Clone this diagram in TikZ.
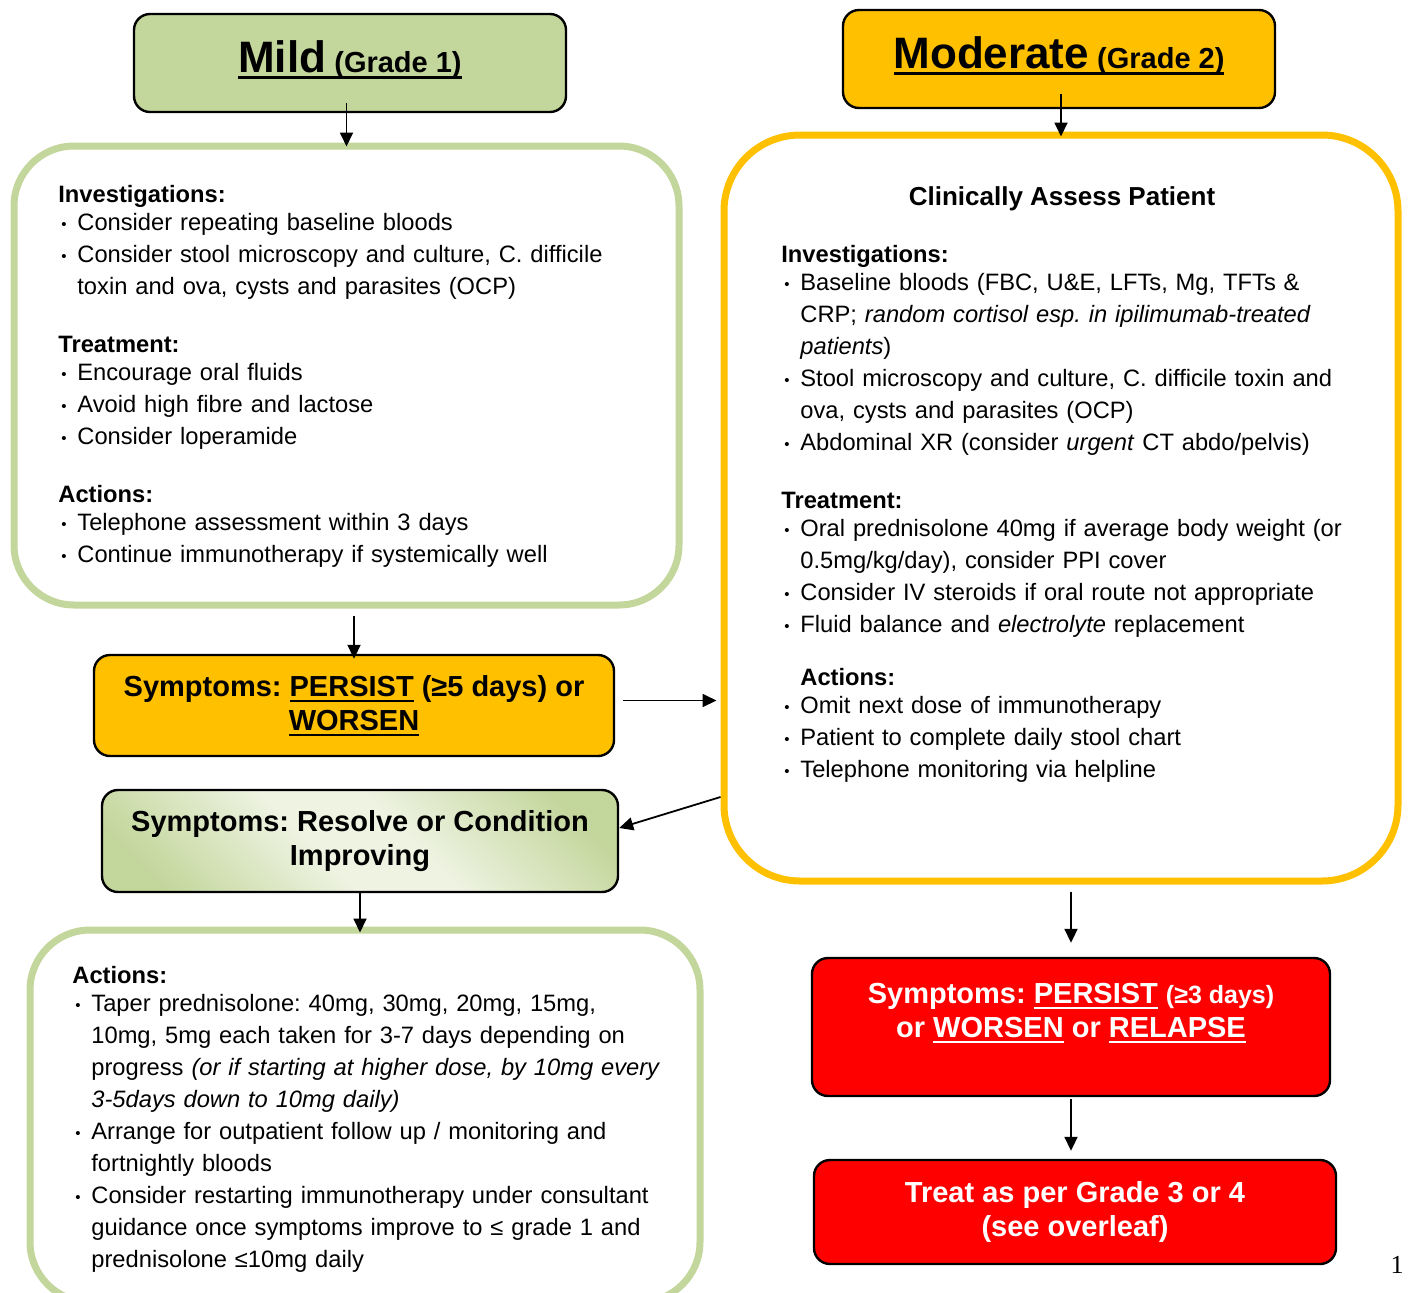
\documentclass[tikz,border=0pt]{standalone}
\usepackage{fontspec}
\setmainfont{Liberation Sans}
\newfontfamily\pagefont{Liberation Serif}
\usetikzlibrary{positioning,calc,arrows.meta}
\frenchspacing

\definecolor{mildgreen}{HTML}{C3D69B}
\definecolor{palegreen}{HTML}{EEF3E2}
\definecolor{modamber}{HTML}{FFC000}
\definecolor{alertred}{HTML}{FF0000}

\pgfdeclarehorizontalshading{resolvefade}{100bp}{color(0bp)=(mildgreen); color(22bp)=(mildgreen); color(44bp)=(palegreen); color(56bp)=(palegreen); color(78bp)=(mildgreen); color(100bp)=(mildgreen)}

\newsavebox{\ulbox}
\newcommand{\undl}[2][1pt]{\sbox{\ulbox}{#2}\makebox[0pt][l]{\rule[\dimexpr-2pt-#1\relax]{\wd\ulbox}{#1}}\usebox{\ulbox}}
\newcommand{\bulitem}{\par\hangindent=9.5pt\hangafter=1\noindent\makebox[9.5pt][l]{\hspace{1.5pt}\raisebox{0.6pt}{\fontsize{7.5}{7.5}\selectfont\textbullet}}}
\newcommand{\secthead}[1]{\par\noindent\textbf{#1}\par\vspace{-2pt}}
\newcommand{\secgap}[1][13pt]{\par\vspace{#1}}

\tikzset{
  boxbase/.style={draw=black, line width=1.2pt, rounded corners=8pt, inner sep=0pt,
    font=\bfseries\fontsize{14.5}{17}\selectfont},
  gradebox/.style={boxbase, minimum width=216pt, minimum height=49pt, text height=16pt, text depth=7pt},
  stepbox/.style={boxbase, align=center},
  alertbox/.style={stepbox, fill=alertred, text=white},
  mildpanel/.style={draw=mildgreen, line width=3.5pt, rounded corners=30pt, fill=white, inner sep=0pt},
  modpanel/.style={draw=modamber, line width=3.5pt, rounded corners=38pt, fill=white, inner sep=0pt},
  bodytext/.style={anchor=north west, align=left, text width=330pt, inner sep=0pt,
    font=\fontsize{11.85}{16}\selectfont},
  flow/.style={-{Triangle[length=7pt,width=6.5pt]}, line width=0.9pt},
}

\begin{document}
\begin{tikzpicture}[x=0.5pt, y=-0.5pt]
  \useasboundingbox (0,0) rectangle (1408,1292);
  \clip (0,0) rectangle (1408,1292);

  % grade headers
  \node[gradebox, fill=mildgreen] (mild) at (350,63)
    {\undl[1.5pt]{{\fontsize{22}{26}\selectfont Mild} (Grade 1)}};
  \node[gradebox, fill=modamber] (moderate) at (1059,59)
    {\undl[1.5pt]{{\fontsize{22}{26}\selectfont Moderate} (Grade 2)}};

  % grade 1 care
  \node[mildpanel, minimum width=332.5pt, minimum height=229.5pt] (mildcare) at (346.5,375.5) {};
  \node[bodytext] (mildtxt) at (58,170) {\secthead{Investigations:}
    \bulitem Consider repeating baseline bloods
    \bulitem Consider stool microscopy and culture, C. difficile\newline toxin and ova, cysts and parasites (OCP)
    \secgap\secthead{Treatment:}
    \bulitem Encourage oral fluids
    \bulitem Avoid high fibre and lactose
    \bulitem Consider loperamide
    \secgap\secthead{Actions:}
    \bulitem Telephone assessment within 3 days
    \bulitem Continue immunotherapy if systemically well\par};

  % grade 2 care
  \node[modpanel, minimum width=337pt, minimum height=373pt] (modcare) at (1061,508) {};
  \node[font=\bfseries\fontsize{13}{15}\selectfont] (assess) at (1062,199) {Clinically Assess Patient};
  \node[bodytext] (modtxt) at (781,230) {\secthead{Investigations:}
    \bulitem Baseline bloods (FBC, U\&E, LFTs, Mg, TFTs \&\newline CRP; \textit{random cortisol esp. in ipilimumab-treated}\newline \textit{patients})
    \bulitem Stool microscopy and culture, C. difficile toxin and\newline ova, cysts and parasites (OCP)
    \bulitem Abdominal XR (consider \textit{urgent} CT abdo/pelvis)
    \secgap\secthead{Treatment:}
    \bulitem Oral prednisolone 40mg if average body weight (or\newline 0.5mg/kg/day), consider PPI cover
    \bulitem Consider IV steroids if oral route not appropriate
    \bulitem Fluid balance and \textit{electrolyte} replacement
    \secgap[10.5pt]\secthead{\hspace*{9.5pt}Actions:}
    \bulitem Omit next dose of immunotherapy
    \bulitem Patient to complete daily stool chart
    \bulitem Telephone monitoring via helpline\par};

  % outcomes
  \node[stepbox, fill=modamber, minimum width=260pt, minimum height=50.5pt] (persist) at (354,705.5)
    {Symptoms: \undl{PERSIST} (≥5 days) or\\\undl{WORSEN}};
  \node[stepbox, shade, shading=resolvefade, shading angle=45, minimum width=258pt, minimum height=51pt]
    (resolve) at (360,841) {Symptoms: Resolve or Condition\\Improving};

  \node[mildpanel, minimum width=335pt, minimum height=186pt] (taper) at (365,1116) {};
  \node[bodytext] (tapertxt) at (72,951) {\secthead{Actions:}
    \bulitem Taper prednisolone: 40mg, 30mg, 20mg, 15mg,\newline 10mg, 5mg each taken for 3-7 days depending on\newline progress \textit{(or if starting at higher dose, by 10mg every}\newline \textit{3-5days down to 10mg daily)}
    \bulitem Arrange for outpatient follow up / monitoring and\newline fortnightly bloods
    \bulitem Consider restarting immunotherapy under consultant\newline guidance once symptoms improve to ≤ grade 1 and\newline prednisolone ≤10mg daily\par};

  \node[alertbox, minimum width=259pt, minimum height=69pt] (worsen) at (1071,1027)
    {Symptoms: \undl{PERSIST} {\fontsize{12.5}{17}\selectfont(≥3 days)}\\or \undl{WORSEN} or \undl{RELAPSE}\\\mbox{}};
  \node[alertbox, minimum width=261pt, minimum height=52pt] (grade34) at (1075,1212)
    {Treat as per Grade 3 or 4\\(see overleaf)};

  \node[font=\pagefont\fontsize{13}{13}\selectfont] (pagenum) at (1397,1265) {1};

  % connectors
  \draw[flow, shorten <=-5pt, shorten >=-2pt] (mild.south -| mildcare.north) -- (mildcare.north);
  \draw[flow, shorten <=-7.5pt, shorten >=-2.5pt] (moderate.south -| modcare.north) -- (modcare.north);
  \draw[flow, shorten <=3.5pt, shorten >=-2.5pt] (mildcare.south -| persist.north) -- (persist.north);
  \draw[flow, shorten <=4pt, shorten >=2pt] ([yshift=2.5pt]persist.east) -- ([yshift=2.5pt]persist.east -| modcare.west);
  \draw[flow] ([yshift=-144.5pt]modcare.west) -- ([yshift=6.5pt]resolve.east);
  \draw[flow, shorten <=-1pt, shorten >=-3pt] (resolve.south) -- (resolve.south |- taper.north);
  \draw[flow, shorten <=3.5pt, shorten >=7pt] (modcare.south -| worsen.north) -- (worsen.north);
  \draw[flow, shorten <=1pt, shorten >=4pt] (worsen.south) -- (worsen.south |- grade34.north);
\end{tikzpicture}
\end{document}
